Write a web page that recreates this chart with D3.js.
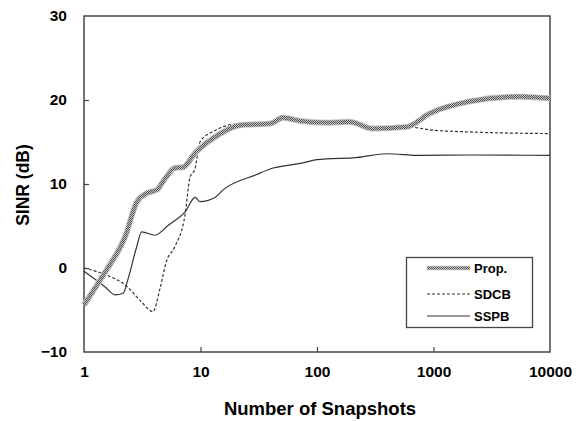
<!DOCTYPE html>
<meta charset="utf-8">
<style>
  body { margin: 0; background: #fff; }
  text { font-family: "Liberation Sans", Arial, sans-serif; font-weight: bold; fill: #000; }
</style>
<script src="https://d3js.org/d3.v7.min.js"></script>
<svg width="587" height="421"></svg>
<script>
// values: snapshots (N) and SINR (dB)
const propN = [1, 1.5, 2.25, 2.85, 3.45, 4.2, 5.0, 6.0, 7.1, 9.0, 13, 22, 40, 51, 72, 120, 190, 300, 590, 930, 2000, 5500, 10000];
const propV = [-4.4, -0.6, 3.7, 7.9, 8.9, 9.3, 10.7, 11.9, 12.0, 13.7, 15.5, 17.0, 17.2, 17.9, 17.5, 17.3, 17.4, 16.6, 16.8, 18.4, 19.8, 20.4, 20.2];

const sdcbN = [1, 1.6, 2.25, 3.1, 3.9, 4.5, 5.1, 6.0, 7.4, 8.1, 9.0, 9.9, 13, 22, 40, 51, 72, 120, 190, 300, 590, 1000, 2000, 10000];
const sdcbV = [0, -0.9, -2.0, -4.0, -5.2, -2.4, 0.8, 2.5, 6.5, 10.7, 11.9, 15.0, 16.3, 17.2, 17.3, 17.9, 17.5, 17.3, 17.4, 16.6, 16.8, 16.4, 16.2, 16.0];

const sspbN = [1, 1.5, 1.85, 2.17, 2.4, 2.83, 3.13, 4.07, 5.3, 7.4, 9.0, 9.9, 13.3, 15.6, 30, 42, 72, 100, 121, 204, 396, 766, 2057, 10000];
const sspbV = [-0.4, -2.2, -3.2, -3.0, -1.2, 2.5, 4.3, 3.9, 5.1, 6.7, 8.4, 7.9, 8.4, 9.3, 11.1, 11.9, 12.45, 12.9, 13.0, 13.1, 13.6, 13.4, 13.45, 13.4];

const xTicks = [1, 10, 100, 1000, 10000];
const yTicks = [-10, 0, 10, 20, 30];
const seriesNames = ['Prop.', 'SDCB', 'SSPB'];

const svg = d3.select('svg');
const pl = 84, pr = 550, pt = 16, pb = 352;

const x = d3.scaleLog().domain([1, 10000]).range([pl, pr]);
const y = d3.scaleLinear().domain([-10, 30]).range([pb, pt]);

// checker texture for the proposed curve
const defs = svg.append('defs');
const pat = defs.append('pattern')
  .attr('id', 'checker').attr('patternUnits', 'userSpaceOnUse')
  .attr('width', 2).attr('height', 2);
pat.append('rect').attr('width', 2).attr('height', 2).attr('fill', '#c8c8c8');
pat.append('rect').attr('width', 1).attr('height', 1).attr('fill', '#505050');
pat.append('rect').attr('x', 1).attr('y', 1).attr('width', 1).attr('height', 1).attr('fill', '#505050');

// frame
svg.append('rect')
  .attr('x', pl).attr('y', pt)
  .attr('width', pr - pl).attr('height', pb - pt)
  .attr('fill', 'none').attr('stroke', '#444').attr('stroke-width', 1.5);

// axes with inward ticks
const xAxis = svg.append('g').attr('transform', `translate(0,${pb})`)
  .call(d3.axisBottom(x).tickValues(xTicks).tickSize(-5).tickPadding(14).tickFormat(d3.format('d')));
const yAxis = svg.append('g').attr('transform', `translate(${pl},0)`)
  .call(d3.axisLeft(y).tickValues(yTicks).tickSize(-5).tickPadding(17).tickFormat(d3.format('d')));
[xAxis, yAxis].forEach(a => {
  a.select('.domain').remove();
  a.selectAll('line').attr('stroke', '#444').attr('stroke-width', 1.2);
  a.selectAll('text').attr('font-size', 15.5).attr('font-family', '"Liberation Sans", Arial, sans-serif').attr('font-weight', 'bold');
});
xAxis.selectAll('.tick').filter(d => d === 1 || d === 10000).select('line').remove();
yAxis.selectAll('.tick').filter(d => d === -10 || d === 30).select('line').remove();

svg.append('text')
  .attr('x', (pl + pr) / 2 + 3).attr('y', 415)
  .attr('text-anchor', 'middle').attr('font-size', 18.5)
  .text('Number of Snapshots');
svg.append('text')
  .attr('transform', `translate(29,${(pt + pb) / 2 + 1}) rotate(-90)`)
  .attr('text-anchor', 'middle').attr('font-size', 17.5)
  .text('SINR (dB)');

const line = d3.line().x(d => x(d[0])).y(d => y(d[1])).curve(d3.curveMonotoneX);
const zip = (a, b) => a.map((v, i) => [v, b[i]]);

svg.append('path').attr('d', line(zip(sspbN, sspbV)))
  .attr('fill', 'none').attr('stroke', '#333').attr('stroke-width', 1.2);
svg.append('path').attr('d', line(zip(sdcbN, sdcbV)))
  .attr('fill', 'none').attr('stroke', '#333').attr('stroke-width', 1.2).attr('stroke-dasharray', '3,2');
svg.append('path').attr('d', line(zip(propN, propV)))
  .attr('fill', 'none').attr('stroke', '#c4c4c4').attr('stroke-width', 6);
svg.append('path').attr('d', line(zip(propN, propV)))
  .attr('fill', 'none').attr('stroke', 'url(#checker)').attr('stroke-width', 4.2);

// legend
const lg = svg.append('g');
lg.append('rect').attr('x', 406.5).attr('y', 257.5).attr('width', 126).attr('height', 70)
  .attr('fill', '#fff').attr('stroke', '#444').attr('stroke-width', 1.3);
const rows = [268, 294, 316];
seriesNames.forEach((name, i) => {
  const yy = rows[i];
  if (i === 0) {
    lg.append('line').attr('x1', 427).attr('x2', 470).attr('y1', yy).attr('y2', yy)
      .attr('stroke', '#c4c4c4').attr('stroke-width', 4.5);
    lg.append('line').attr('x1', 427).attr('x2', 470).attr('y1', yy).attr('y2', yy)
      .attr('stroke', 'url(#checker)').attr('stroke-width', 3);
  } else {
    lg.append('line').attr('x1', 427).attr('x2', 470).attr('y1', yy).attr('y2', yy)
      .attr('stroke', '#333').attr('stroke-width', 1.2)
      .attr('stroke-dasharray', i === 1 ? '3,2' : null);
  }
  lg.append('text').attr('x', 474).attr('y', yy + 5).attr('font-size', 13).text(name);
});
</script>
